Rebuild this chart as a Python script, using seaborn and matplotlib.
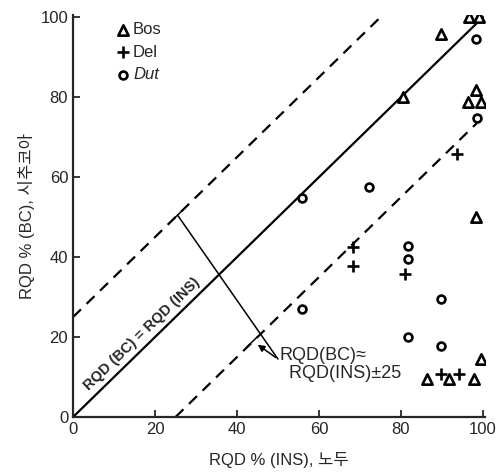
import pandas as pd
import matplotlib.pyplot as plt
import numpy as np
import seaborn as sns

# Values
bos_x = [80.5, 89.8, 96.5, 99.0, 96.4, 98.3, 99.5, 98.3, 99.5, 86.4, 91.7, 97.8]
bos_y = [80.0, 95.8, 100.0, 100.0, 78.9, 81.8, 78.9, 50.0, 14.4, 9.5, 9.5, 9.5]
del_x = [68.4, 68.4, 81.0, 93.7, 89.8, 94.2]
del_y = [42.5, 37.8, 35.8, 65.7, 10.7, 10.7]
dut_x = [98.3, 98.5, 55.8, 72.3, 55.8, 81.6, 81.6, 89.8, 81.6, 89.8]
dut_y = [94.5, 74.9, 54.7, 57.5, 26.9, 42.8, 39.5, 29.6, 19.9, 17.7]
band = 25

df = pd.concat([
    pd.DataFrame({'x': bos_x, 'y': bos_y, 'site': 'Bos'}),
    pd.DataFrame({'x': del_x, 'y': del_y, 'site': 'Del'}),
    pd.DataFrame({'x': dut_x, 'y': dut_y, 'site': 'Dut'}),
])

sns.set_style('ticks')
plt.rcParams['font.family'] = ['Liberation Sans', 'Noto Sans CJK KR', 'DejaVu Sans']

fig = plt.figure(figsize=(5, 4.75), dpi=100)
ax = fig.add_axes([0.146, 0.122, 0.824, 0.846])

# 1:1 line and +/-25 band
line = np.array([0, 100])
ax.plot(line, line, color='black', lw=1.6)
ax.plot([0, 100 - band], [band, 100], color='black', lw=1.6, ls=(0, (5, 3.5)))
ax.plot([band, 100], [0, 100 - band], color='black', lw=1.6, ls=(0, (5, 3.5)))

# seaborn scatter for the three sites (open markers)
markers = {'Bos': '^', 'Del': '+', 'Dut': 'o'}
sizes = {'Bos': 55, 'Del': 75, 'Dut': 32}
for name in ['Bos', 'Del', 'Dut']:
    sub = df[df['site'] == name]
    sns.scatterplot(x=sub['x'], y=sub['y'], marker=markers[name],
                    s=sizes[name], facecolor='white' if name != 'Del' else 'black',
                    edgecolor='black', linewidth=1.9, color='black',
                    ax=ax, label=name, zorder=3)

# legend
leg = ax.legend(loc='upper left', bbox_to_anchor=(0.065, 1.02), frameon=False,
                handletextpad=0.1, labelspacing=0.45, handlelength=1.0,
                fontsize=12)
leg.get_texts()[2].set_style('italic')

# band annotation
ax.plot([25.5, 50], [50.5, 14.5], color='black', lw=1.1)
ax.plot([24.3, 26.7], [49.3, 51.7], color='black', lw=1.1)
ax.annotate('', xy=(44.5, 18.5), xytext=(50, 14.5),
            arrowprops=dict(arrowstyle='-|>', color='black', lw=1.1,
                            mutation_scale=10))
ax.plot([42.4, 44.8], [17.5, 19.9], color='black', lw=1.1)
ax.text(50.3, 8.7, 'RQD(BC)≈\n  RQD(INS)±25', fontsize=13, ha='left',
        va='bottom', linespacing=1.1)

ax.text(16.8, 20.8, 'RQD (BC) = RQD (INS)', rotation=44, fontsize=10.5,
        fontweight='bold', ha='center', va='center', rotation_mode='anchor')

ax.set_xlim(0, 100.5)
ax.set_ylim(0, 100.5)
ax.set_xticks(range(0, 101, 20))
ax.set_yticks(range(0, 101, 20))
ax.tick_params(direction='in', length=5, width=1.3, labelsize=12)
for s in ['top', 'right']:
    ax.spines[s].set_visible(False)
for s in ['left', 'bottom']:
    ax.spines[s].set_linewidth(1.6)

ax.set_xlabel('RQD % (INS), 노두', fontsize=12, labelpad=11)
ax.set_ylabel('RQD % (BC), 시추코아', fontsize=12, labelpad=4)

fig.savefig('out.png', dpi=100)
